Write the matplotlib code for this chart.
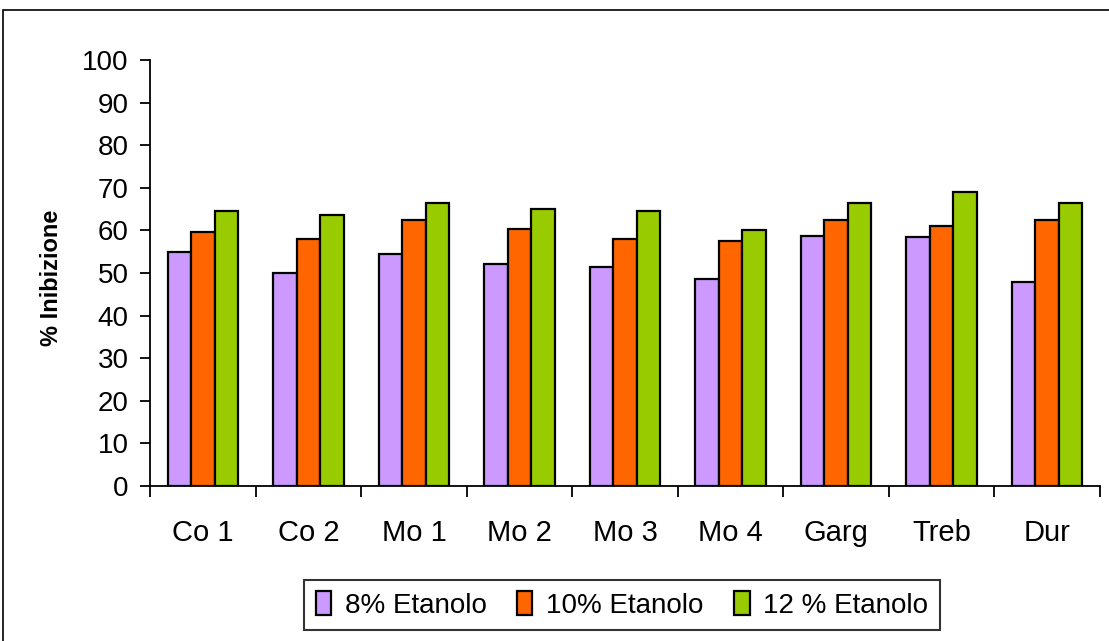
import matplotlib
matplotlib.use("Agg")
import matplotlib.pyplot as plt
import numpy as np
from matplotlib.patches import Rectangle

plt.rcParams['font.family'] = ['Liberation Sans', 'DejaVu Sans']

categories = ["Co 1", "Co 2", "Mo 1", "Mo 2", "Mo 3", "Mo 4", "Garg", "Treb", "Dur"]
series_names = ["8% Etanolo", "10% Etanolo", "12 % Etanolo"]
etanolo_8 = [55.0, 50.0, 54.4, 52.0, 51.4, 48.5, 58.8, 58.4, 48.0]
etanolo_10 = [59.6, 58.0, 62.5, 60.4, 58.0, 57.5, 62.5, 61.0, 62.5]
etanolo_12 = [64.5, 63.5, 66.4, 65.0, 64.5, 60.0, 66.4, 68.9, 66.4]
colors = ["#CC99FF", "#FF6600", "#99CC00"]
yticks = list(range(0, 101, 10))

fig = plt.figure(figsize=(11.09, 6.41), dpi=100)
fig.patch.set_facecolor("white")

# outer chart frame (runs off the right and bottom edges)
fig.patches.append(Rectangle((3 / 1109, -0.05), 1.1, 1 - 10 / 641 + 0.05,
                             transform=fig.transFigure, fill=False,
                             edgecolor="black", linewidth=1.2))

ax = fig.add_axes([150 / 1109, (641 - 486) / 641, 950 / 1109, 426 / 641])

x = np.arange(len(categories))
w = 1 / 4.5
for i, (vals, name, col) in enumerate(zip([etanolo_8, etanolo_10, etanolo_12], series_names, colors)):
    ax.bar(x + (i - 1) * w, vals, width=w, color=col, edgecolor="black",
           linewidth=1.6, label=name, zorder=3)

ax.set_xlim(-0.5, len(categories) - 0.5)
ax.set_ylim(0, 100)
ax.set_yticks(yticks)
ax.set_yticklabels([str(t) for t in yticks], fontsize=20)
ax.set_xticks(x)
ax.set_xticklabels(categories, fontsize=21)
ax.tick_params(axis="x", length=0, pad=24)
ax.set_xticks(np.arange(len(categories) + 1) - 0.5, minor=True)
ax.tick_params(axis="x", which="minor", length=8, width=1.3, direction="out")
ax.tick_params(axis="y", length=7.5, width=1.3, direction="out", pad=8)

for s in ["top", "right"]:
    ax.spines[s].set_visible(False)
for s in ["left", "bottom"]:
    ax.spines[s].set_linewidth(1.3)

ax.set_ylabel("% Inibizione", fontsize=17, fontweight="bold")
ax.yaxis.set_label_coords(-(150 - 63) / 950, 0.5 - (278 - 273) / 426)

leg = fig.legend(loc="center", bbox_to_anchor=(622 / 1109, 1 - 605 / 641), ncol=3,
                 fontsize=20, frameon=True, fancybox=False, handlelength=0.55,
                 handleheight=0.9, handletextpad=0.5, columnspacing=1.1,
                 borderpad=0.4, edgecolor="black")
leg.get_frame().set_linewidth(1.5)

fig.savefig("out.png", dpi=100, facecolor="white")
